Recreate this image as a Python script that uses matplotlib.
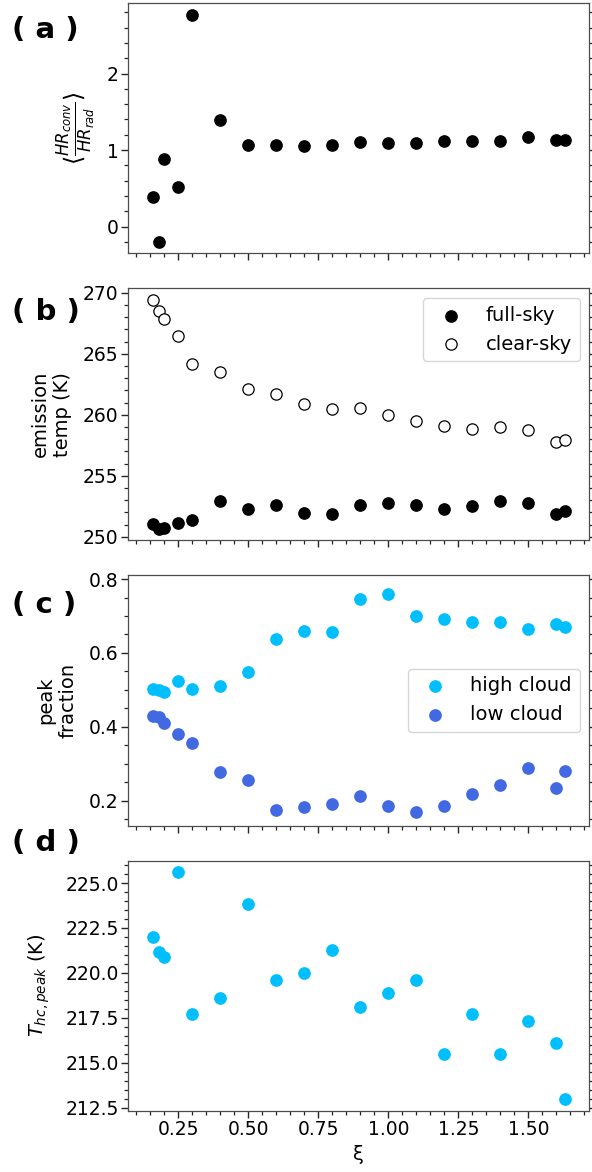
import numpy as np
import matplotlib
matplotlib.use("Agg")
import matplotlib.pyplot as plt
from matplotlib.ticker import AutoMinorLocator, MultipleLocator, FormatStrFormatter

# xi values
xi = [0.16, 0.18, 0.2, 0.25, 0.3, 0.4, 0.5, 0.6, 0.7, 0.8, 0.9, 1.0, 1.1, 1.2, 1.3, 1.4, 1.5, 1.6, 1.63]

# (a) heating rate ratio
hr_ratio = [0.39, -0.2, 0.88, 0.52, 2.77, 1.39, 1.07, 1.07, 1.05, 1.07, 1.10, 1.09, 1.095, 1.125, 1.12, 1.12, 1.17, 1.13, 1.13]

# (b) emission temperature
temp_full = [251.03, 250.67, 250.7, 251.16, 251.39, 252.97, 252.28, 252.63, 251.94, 251.86, 252.63, 252.74,
             252.58, 252.3, 252.5, 252.9, 252.74, 251.86, 252.08]
temp_clear = [269.44, 268.48, 267.87, 266.45, 264.18, 263.5, 262.1, 261.7, 260.86, 260.44, 260.58, 260.0,
              259.47, 259.05, 258.86, 259.03, 258.78, 257.76, 257.97]

# (c) peak fraction
frac_high = [0.501, 0.50, 0.495, 0.525, 0.501, 0.510, 0.549, 0.638, 0.660, 0.656, 0.745, 0.760, 0.701, 0.692,
             0.684, 0.684, 0.665, 0.677, 0.669]
frac_low = [0.429, 0.427, 0.411, 0.380, 0.357, 0.278, 0.256, 0.175, 0.182, 0.192, 0.213, 0.186, 0.170, 0.186,
            0.218, 0.242, 0.288, 0.234, 0.280]

# (d) high cloud peak temperature
t_hc = [221.99, 221.16, 220.91, 225.61, 217.72, 218.61, 223.83, 219.6, 220.0, 221.28, 218.13, 218.87, 219.6,
        215.47, 217.72, 215.47, 217.33, 216.12, 212.97]

panel_labels = ['( a )', '( b )', '( c )', '( d )']

plt.rcParams['font.family'] = 'DejaVu Sans'
plt.rcParams['mathtext.fontset'] = 'dejavusans'
plt.rcParams['font.size'] = 14
plt.rcParams['xtick.labelsize'] = 13.5
plt.rcParams['ytick.labelsize'] = 13.5
plt.rcParams['axes.edgecolor'] = '0.3'
plt.rcParams['axes.linewidth'] = 0.9

fig = plt.figure(figsize=(5.92, 11.72), dpi=100)
W, H = 592.0, 1172.0

# axes boxes in pixels (top, bottom)
boxes = [(3.3, 253.3), (288.3, 540.0), (575.0, 825.7), (860.7, 1110.7)]
left, right = 128.3, 589.3
axes = []
for top, bot in boxes:
    ax = fig.add_axes([left / W, 1 - bot / H, (right - left) / W, (bot - top) / H])
    axes.append(ax)

s = 66

ax = axes[0]
ax.scatter(xi, hr_ratio, s=s, color='black')
ax.set_ylabel(r'$\langle\frac{HR_{conv}}{HR_{rad}}\rangle$', fontsize=17)
ax.yaxis.set_major_locator(MultipleLocator(1))

ax = axes[1]
ax.scatter(xi, temp_full, s=s, color='black', label='full-sky')
ax.scatter(xi, temp_clear, s=s, facecolor='white', edgecolor='black', linewidth=0.9, label='clear-sky')
ax.set_ylabel('emission\ntemp (K)')
ax.yaxis.set_major_locator(MultipleLocator(5))
ax.legend(loc='upper right')

ax = axes[2]
ax.scatter(xi, frac_high, s=s, color='deepskyblue', label='high cloud')
ax.scatter(xi, frac_low, s=s, color='royalblue', label='low cloud')
ax.set_ylabel('peak\nfraction')
ax.set_ylim(0.132, 0.811)
ax.yaxis.set_major_locator(MultipleLocator(0.2))
ax.legend(loc='center right')

ax = axes[3]
ax.scatter(xi, t_hc, s=s, color='deepskyblue')
ax.set_ylabel(r'$T_{hc,peak}$ (K)')
ax.set_xlabel('ξ')
ax.yaxis.set_major_locator(MultipleLocator(2.5))
ax.yaxis.set_major_formatter(FormatStrFormatter('%.1f'))

for i, ax in enumerate(axes):
    ax.set_xlim(0.071, 1.718)
    ax.xaxis.set_major_locator(MultipleLocator(0.25))
    ax.xaxis.set_minor_locator(AutoMinorLocator())
    ax.yaxis.set_minor_locator(AutoMinorLocator())
    ax.tick_params(which='both', right=True, direction='out', color='0.15')
    ax.tick_params(which='major', length=5, width=1, pad=2)
    ax.tick_params(which='minor', length=3, width=0.9)
    if i < 3:
        ax.tick_params(labelbottom=False)

# y label anchors (right edge of rotated label)
label_x = [-0.065, -0.122, -0.111, -0.166]
for ax, lx in zip(axes, label_x):
    ax.yaxis.set_label_coords(lx, 0.5)

# panel labels
label_pos = [(12, 30), (12, 312), (12, 605), (12, 843)]
for lab, (px, py) in zip(panel_labels, label_pos):
    fig.text(px / W, 1 - py / H, lab, fontsize=21, fontweight='bold',
             ha='left', va='center')

fig.savefig('out.png', dpi=100)
